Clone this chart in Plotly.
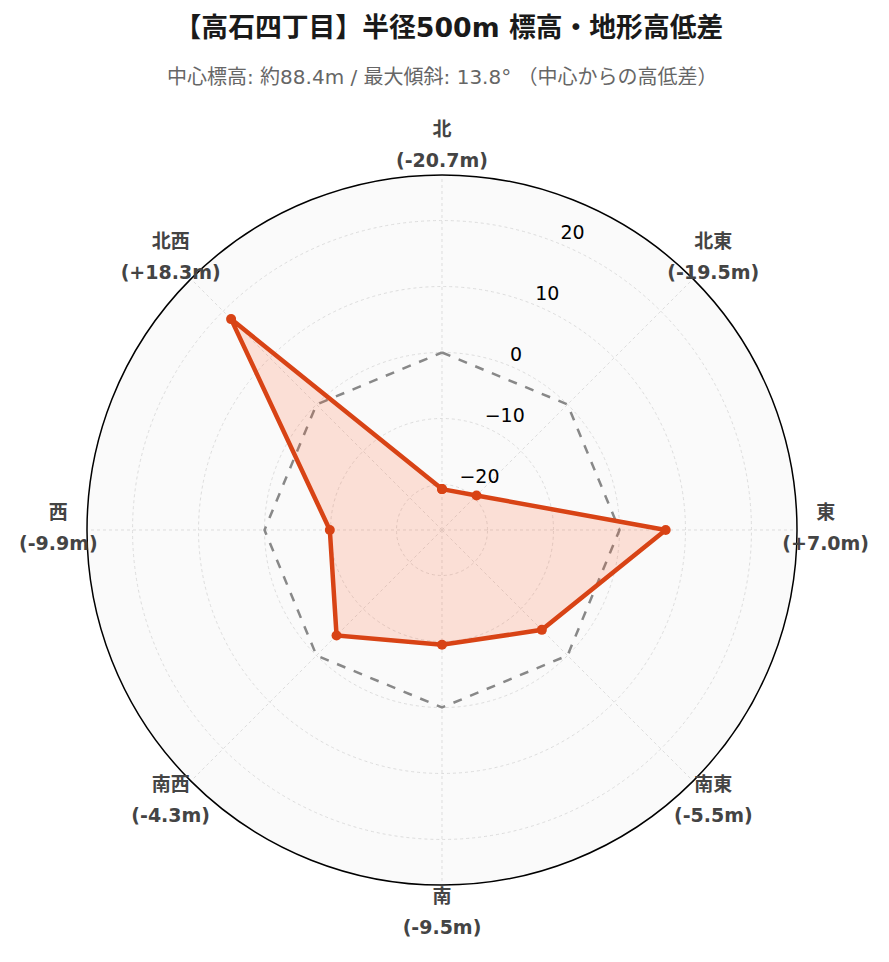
import plotly.graph_objects as go

directions = ["北", "北東", "東", "南東", "南", "南西", "西", "北西"]
diffs = [-20.7, -19.5, 7.0, -5.5, -9.5, -4.3, -9.9, 18.3]
baseline = [0, 0, 0, 0, 0, 0, 0, 0]
radial_ticks = [-20, -10, 0, 10, 20]
radial_tick_text = ["\u221220", "\u221210", "0", "10", "20"]
radial_axis_theta = 22.5   # degrees clockwise from north
r_range = [-26.9, 26.9]
label_r = 31.25

value_labels = [f"<b>({v:+.1f}m)</b>" if v > 0 else f"<b>({v:.1f}m)</b>" for v in diffs]
name_labels = [f"<b>{d}</b>" for d in directions]

theta = directions + [directions[0]]
font_fam = "DejaVu Sans, Noto Sans CJK JP, sans-serif"

# figure geometry (pixels)
W, H = 889, 962
cx, cy = 434, 522          # polar centre in figure pixels
R1, R2 = 355, 400          # main circle radius, label-layer radius
r2_range = [r_range[0], r_range[0] + (r_range[1] - r_range[0]) * R2 / R1]


def dom(R):
    return dict(x=[(cx - R) / W, (cx + R) / W],
                y=[(H - cy - R) / H, (H - cy + R) / H])


fig = go.Figure()
fig.add_trace(go.Scatterpolar(
    r=baseline + [baseline[0]], theta=theta, mode="lines",
    line=dict(color="#888888", width=2.5, dash="dash"),
    hoverinfo="skip", showlegend=False))
fig.add_trace(go.Scatterpolar(
    r=diffs + [diffs[0]], theta=theta, mode="lines+markers",
    fill="toself", fillcolor="rgba(255,87,34,0.17)",
    line=dict(color="#d84315", width=4.5),
    marker=dict(color="#d84315", size=10),
    showlegend=False))
# direction labels (outer ring)
fig.add_trace(go.Scatterpolar(
    r=[label_r] * len(directions), theta=directions, mode="markers+text",
    marker=dict(size=8, color="rgba(0,0,0,0)"),
    text=name_labels, textposition="top center", subplot="polar2",
    textfont=dict(size=19, color="#444444", family=font_fam),
    hoverinfo="skip", showlegend=False))
fig.add_trace(go.Scatterpolar(
    r=[label_r] * len(directions), theta=directions, mode="markers+text",
    marker=dict(size=8, color="rgba(0,0,0,0)"),
    text=value_labels, textposition="bottom center", subplot="polar2",
    textfont=dict(size=19, color="#444444", family=font_fam),
    hoverinfo="skip", showlegend=False))
# radial tick labels
fig.add_trace(go.Scatterpolar(
    r=radial_ticks, theta=[radial_axis_theta] * len(radial_ticks),
    mode="text",
    text=radial_tick_text, textposition="top right", subplot="polar3",
    textfont=dict(size=19, color="black", family=font_fam),
    hoverinfo="skip", showlegend=False))

hidden_axis = dict(showline=False, showgrid=False, showticklabels=False, ticks="")

fig.update_layout(
    width=W, height=H,
    paper_bgcolor="white",
    font=dict(family=font_fam),
    margin=dict(l=0, r=0, t=0, b=0),
    title=dict(text="<b>【高石四丁目】半径500m 標高・地形高低差</b>",
               x=0.496, xanchor="center", y=0.98, yanchor="middle",
               font=dict(size=26.8, color="#1a1a1a", family=font_fam)),
    annotations=[dict(text="中心標高: 約88.4m / 最大傾斜: 13.8° （中心からの高低差）",
                      x=cx / W, xref="paper", y=(H - 69) / H, yref="paper",
                      yanchor="middle", showarrow=False,
                      font=dict(size=20, color="#666666", family=font_fam))],
    polar=dict(
        domain=dom(R1),
        bgcolor="#fafafa",
        angularaxis=dict(
            rotation=90, direction="clockwise",
            showticklabels=False,
            showline=True, linecolor="black", linewidth=1.5,
            gridcolor="#dddddd", griddash="dot", ticks=""),
        radialaxis=dict(
            range=r_range, angle=67.5,
            tickvals=radial_ticks, showline=False, ticks="",
            showticklabels=False,
            gridcolor="#dddddd", griddash="dot"),
    ),
    polar2=dict(
        domain=dom(R2),
        bgcolor="rgba(0,0,0,0)",
        angularaxis=dict(rotation=90, direction="clockwise",
                         categoryarray=directions, **hidden_axis),
        radialaxis=dict(range=r2_range, **hidden_axis),
    ),
    polar3=dict(
        domain=dom(R1),
        bgcolor="rgba(0,0,0,0)",
        angularaxis=dict(rotation=90, direction="clockwise", type="linear",
                         **hidden_axis),
        radialaxis=dict(range=r_range, **hidden_axis),
    ),
)
fig.write_html("out.html")
